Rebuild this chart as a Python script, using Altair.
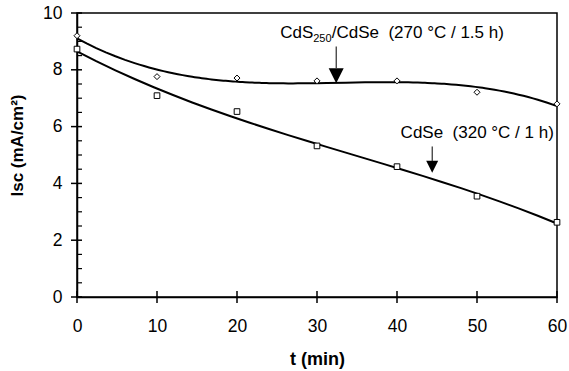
import altair as alt
import pandas as pd

# ---- data ----
t_min = [0, 10, 20, 30, 40, 50, 60]
isc_cds_cdse = [9.20, 7.76, 7.71, 7.61, 7.61, 7.21, 6.80]
isc_cdse = [8.73, 7.09, 6.53, 5.32, 4.59, 3.55, 2.63]

x_ticks = [0, 10, 20, 30, 40, 50, 60]
y_major = [0, 2, 4, 6, 8, 10]
y_minor = [0.5, 1, 1.5, 2.5, 3, 3.5, 4.5, 5, 5.5, 6.5, 7, 7.5, 8.5, 9, 9.5]

# annotation anchors (data units)
label1_t, label1_y = 25.4, 9.12
label2_t, label2_y = 40.45, 5.61
arrow1_t, arrow1_top, arrow1_base, arrow1_head = 32.4, 8.82, 8.06, 7.79
arrow2_t, arrow2_top, arrow2_base, arrow2_head = 44.4, 5.30, 4.79, 4.59

FONT = "Liberation Sans"
W, H = 480, 284

df = pd.DataFrame({
    "t": t_min * 2,
    "isc": isc_cds_cdse + isc_cdse,
    "series": ["CdS250/CdSe"] * len(t_min) + ["CdSe"] * len(t_min),
})

xs = alt.Scale(domain=[0, 60], nice=False, zero=False)
ys = alt.Scale(domain=[0, 10], nice=False)

x_axis = alt.Axis(values=x_ticks, ticks=False, tickSize=0, grid=False,
                  labelFlush=False, labelOverlap=False,
                  labelFont=FONT, labelFontSize=17.5, labelColor="black",
                  labelPadding=20.5, domainColor="black", domainWidth=1.5,
                  title="t (min)", titleFont=FONT, titleFontSize=18,
                  titleFontWeight="bold", titleColor="black", titleY=53)
y_axis = alt.Axis(values=y_major, ticks=False, tickSize=0, grid=False,
                  labelFlush=False, labelOverlap=False,
                  labelFont=FONT, labelFontSize=17.5, labelColor="black",
                  labelPadding=15, domainColor="black", domainWidth=1.5,
                  title="Isc (mA/cm²)", titleFont=FONT, titleFontSize=17,
                  titleFontWeight="bold", titleColor="black",
                  titleX=-51, titleY=132)

X = alt.X("t:Q", scale=xs)
Y = alt.Y("isc:Q", scale=ys)

base = alt.Chart(df)

curves = base.transform_regression(
    "t", "isc", groupby=["series"], method="poly", order=3, extent=[0, 60]
).mark_line(color="black", strokeWidth=2).encode(
    x=alt.X("t:Q", scale=xs, axis=x_axis),
    y=alt.Y("isc:Q", scale=ys, axis=y_axis),
    detail="series:N",
)

diamonds = base.transform_filter(alt.datum.series == "CdS250/CdSe").mark_point(
    shape="diamond", size=36, filled=True, fill="white", stroke="black",
    strokeWidth=1, opacity=1
).encode(x=X, y=Y)

squares = base.transform_filter(alt.datum.series == "CdSe").mark_point(
    shape="square", size=32, filled=True, fill="white", stroke="black",
    strokeWidth=1, opacity=1
).encode(x=X, y=Y)

ymaj = alt.Chart(pd.DataFrame({"isc": y_major})).mark_rule(
    color="black", strokeWidth=1.5
).encode(y=Y, x=alt.value(-6), x2=alt.value(5))

ymin = alt.Chart(pd.DataFrame({"isc": y_minor})).mark_rule(
    color="black", strokeWidth=1.2
).encode(y=Y, x=alt.value(0), x2=alt.value(5))

xt = alt.Chart(pd.DataFrame({"t": x_ticks})).mark_rule(
    color="black", strokeWidth=1.5
).encode(x=X, y=alt.value(H - 6), y2=alt.value(H + 6))

# labels
lab1 = pd.DataFrame({"t": [label1_t], "isc": [label1_y]})
lab2 = pd.DataFrame({"t": [label2_t], "isc": [label2_y]})

def txt(data, s, size, dx=0, dy=0):
    return alt.Chart(data).mark_text(
        align="left", baseline="alphabetic", font=FONT, fontSize=size,
        color="black", dx=dx, dy=dy
    ).encode(x=X, y=Y, text=alt.value(s))

t1a = txt(lab1, "CdS", 17)
t1b = txt(lab1, "250", 11, dx=33, dy=4)
t1c = txt(lab1, "/CdSe\u00a0\u00a0(270 °C / 1.5 h)", 17, dx=51.5)
t2 = txt(lab2, "CdSe\u00a0\u00a0(320 °C / 1 h)", 17)

# arrows
arr = pd.DataFrame({"t": [arrow1_t, arrow2_t], "isc": [arrow1_top, arrow2_top],
                    "isc2": [arrow1_base, arrow2_base]})
arrow_lines = alt.Chart(arr).mark_rule(color="black", strokeWidth=1).encode(
    x=X, y=Y, y2="isc2:Q")

head1 = alt.Chart(pd.DataFrame({"t": [arrow1_t], "isc": [arrow1_head]})).mark_point(
    shape="M-1,-1L1,-1L0,1Z", size=225, filled=True, color="black", opacity=1
).encode(x=X, y=Y)
head2 = alt.Chart(pd.DataFrame({"t": [arrow2_t], "isc": [arrow2_head]})).mark_point(
    shape="M-1,-1L1,-1L0,1Z", size=144, filled=True, color="black", opacity=1
).encode(x=X, y=Y)

chart = alt.layer(
    curves, diamonds, squares, ymaj, ymin, xt,
    t1a, t1b, t1c, t2, arrow_lines, head1, head2
).properties(
    width=W, height=H,
    autosize=alt.AutoSizeParams(type="none"),
    padding={"left": 77, "top": 13, "right": 12, "bottom": 74},
    background="white",
).configure_view(stroke="black", strokeWidth=1.5)

chart.save("out.html", embed_options={"renderer": "svg", "actions": False})
